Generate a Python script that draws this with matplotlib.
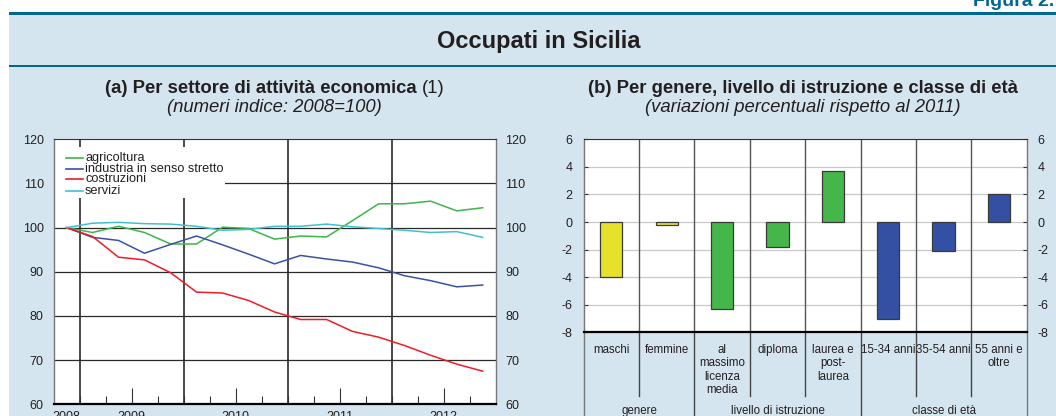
import matplotlib
matplotlib.use('Agg')
import matplotlib.pyplot as plt
import matplotlib.transforms as mtransforms
from matplotlib.patches import Rectangle
from matplotlib.lines import Line2D
import numpy as np

plt.rcParams['font.family'] = ['Liberation Sans', 'DejaVu Sans']
plt.rcParams['axes.unicode_minus'] = False

# ---------------- data ----------------
quarters = ['2008 T4',
            '2009 T1', '2009 T2', '2009 T3', '2009 T4',
            '2010 T1', '2010 T2', '2010 T3', '2010 T4',
            '2011 T1', '2011 T2', '2011 T3', '2011 T4',
            '2012 T1', '2012 T2', '2012 T3', '2012 T4']
years = [2008, 2009, 2010, 2011, 2012]
agricoltura = [100, 98.9, 100.3, 98.9, 96.3, 96.3, 100.1, 99.8, 97.4, 98.1, 97.9,
               101.6, 105.4, 105.4, 106.0, 103.8, 104.5]
industria = [100, 97.8, 97.1, 94.2, 96.2, 98.1, 96.1, 94.0, 91.8, 93.7, 92.9,
             92.2, 90.9, 89.1, 88.0, 86.6, 87.0]
costruzioni = [100, 98.0, 93.3, 92.7, 89.8, 85.4, 85.2, 83.5, 80.9, 79.2, 79.2,
               76.5, 75.2, 73.3, 71.1, 69.1, 67.5]
servizi = [100, 101.0, 101.2, 100.9, 100.8, 100.3, 99.4, 99.6, 100.3, 100.3, 100.8,
           100.2, 99.8, 99.4, 98.9, 99.1, 97.8]
series_names = ['agricoltura', 'industria in senso stretto', 'costruzioni', 'servizi']

categories = ['maschi', 'femmine', 'al\nmassimo\nlicenza\nmedia', 'diploma',
              'laurea e\npost-\nlaurea', '15-34 anni', '35-54 anni', '55 anni e\noltre']
variazioni = [-4.0, -0.25, -6.3, -1.8, 3.7, -7.0, -2.1, 2.0]
groups = ['genere', 'livello di istruzione', 'classe di età']
group_sizes = [2, 3, 3]

# ---------------- style ----------------
BG = '#d5e5ef'
TEAL = '#006890'
TXT = '#231f20'
line_colors = ['#3cb54a', '#3a52a3', '#ee1c25', '#40c0d2']
group_colors = ['#e6e22c', '#45b649', '#3350a3']

W, H = 1056, 416
fig = plt.figure(figsize=(W / 100, H / 100), dpi=100, facecolor=BG)


def fx(px):
    return px / W


def fy(py):
    return 1 - py / H


def frect(x0, y0, x1, y1, color):
    fig.patches.append(Rectangle((fx(x0), fy(y1)), (x1 - x0) / W, (y1 - y0) / H,
                                 transform=fig.transFigure, color=color, lw=0, zorder=0))


frect(0, 0, W, 12.5, 'white')
frect(0, 0, 9, H, 'white')
frect(9, 12.3, W, 14.5, TEAL)
frect(9, 64.9, W, 66.8, TEAL)

fig.text(fx(1054), fy(5.5), 'Figura 2.', ha='right', va='baseline', fontsize=14,
         fontweight='bold', color=TEAL)
fig.text(fx(538.5), fy(48.3), 'Occupati in Sicilia', ha='center', va='baseline',
         fontsize=17, fontweight='bold', color=TXT)

renderer = fig.canvas.get_renderer()


def mixed(xc, ybase, parts, size):
    texts = []
    widths = []
    for s, w, st in parts:
        t = fig.text(0, fy(ybase), s, ha='left', va='baseline', fontsize=size,
                     fontweight=w, fontstyle=st, color=TXT)
        bb = t.get_window_extent(renderer=renderer)
        texts.append(t)
        widths.append(bb.width)
    total = sum(widths)
    x = xc - total / 2
    for t, wd in zip(texts, widths):
        t.set_x(fx(x))
        x += wd


SUB = 13.3
mixed(274.6, 93, [('(a) Per settore di attività economica ', 'bold', 'normal'),
                  ('(1)', 'normal', 'normal')], SUB)
mixed(274.6, 112, [('(numeri indice: 2008=100)', 'normal', 'italic')], SUB)
mixed(803, 93, [('(b) Per genere, livello di istruzione e classe di età', 'bold', 'normal')], SUB)
mixed(803, 112, [('(variazioni percentuali rispetto al 2011)', 'normal', 'italic')], SUB)

# ---------------- left panel ----------------
L0, L1, T0, B0 = 53.5, 495.7, 139.3, 404.3
axL = fig.add_axes([fx(L0), fy(B0), (L1 - L0) / W, (B0 - T0) / H])
axL.set_facecolor('white')
xq = np.array([(int(q[:4]) - 2008) * 4 + int(q[-1]) - 1 + 0.5 for q in quarters])
x_lo, x_hi = xq[0] - 0.5, xq[-1] + 0.5
axL.set_xlim(x_lo, x_hi)
axL.set_ylim(60, 120)

for yv in range(70, 120, 10):
    axL.axhline(yv, color='#2a2a2a', lw=0.9, zorder=1)
for yr in years[1:]:
    axL.axvline((yr - 2008) * 4, color='#2a2a2a', lw=1.2, zorder=1)

for vals, col in zip([agricoltura, industria, costruzioni, servizi], line_colors):
    axL.plot(xq, vals, color=col, lw=1.1, zorder=4, solid_joinstyle='round')

# legend (manual, tight rows like reference)
axL.add_patch(Rectangle((0.004, 0.78), 0.384, 0.19, transform=axL.transAxes,
                        fc='white', ec='none', zorder=2))
rows_y = [0.9306, 0.888, 0.849, 0.806]
for name, col, ry in zip(series_names, line_colors, rows_y):
    axL.add_line(Line2D([0.029, 0.066], [ry, ry], transform=axL.transAxes,
                        color=col, lw=1.2, zorder=3))
    axL.text(0.0715, ry, name, transform=axL.transAxes, fontsize=9.2, color=TXT,
             va='center', ha='left', zorder=3)

major_x = [(yr - 2008) * 4 + 2 for yr in years if x_lo < (yr - 2008) * 4 + 2 < x_hi]
minor_x = [v for v in np.arange(np.ceil(x_lo), x_hi + 0.01, 1) if v not in major_x
           and x_lo < v < x_hi]
axL.set_xticks(major_x)
axL.set_xticks(minor_x, minor=True)
axL.tick_params(axis='x', which='major', direction='in', length=11.5, width=0.8,
                color='#333333', labelbottom=False)
axL.tick_params(axis='x', which='minor', direction='in', length=5.5, width=0.8,
                color='#333333', labelbottom=False)
axL.set_yticks(range(60, 121, 10))
axL.tick_params(axis='y', length=0, pad=7, labelsize=9, labelleft=True, labelright=True,
                labelcolor=TXT)
trL = mtransforms.blended_transform_factory(axL.transData, axL.transAxes)
for yr in years:
    a = max((yr - 2008) * 4, x_lo)
    b = min((yr - 2008) * 4 + 4, x_hi)
    axL.text((a + b) / 2, -0.026, str(yr), transform=trL, ha='center', va='top',
             fontsize=9, color=TXT)
axL.spines['top'].set_color('#333333')
axL.spines['bottom'].set_color('black')
axL.spines['bottom'].set_linewidth(1.6)
for s in ['left', 'right']:
    axL.spines[s].set_color('#777777')
    axL.spines[s].set_linewidth(1.0)

# ---------------- right panel ----------------
R0, R1, RT, RB = 583.7, 1026.6, 139.3, 332.3
axR = fig.add_axes([fx(R0), fy(RB), (R1 - R0) / W, (RB - RT) / H])
axR.set_facecolor('white')
n = len(categories)
axR.set_xlim(0, n)
axR.set_ylim(-8, 6)
axR.set_yticks(range(-8, 7, 2))
axR.grid(axis='y', color='#c9c9c9', lw=0.9)
axR.set_axisbelow(True)

bar_colors = []
for gc, gs in zip(group_colors, group_sizes):
    bar_colors += [gc] * gs
xc = np.arange(n) + 0.5
axR.bar(xc, variazioni, width=0.4, color=bar_colors, edgecolor='#3a3a3a', lw=0.9, zorder=3)

trR = mtransforms.blended_transform_factory(axR.transData, axR.transAxes)
bounds = np.cumsum([0] + group_sizes)
for i in range(1, n):
    axR.axvline(i, color='#555555', lw=1.0, zorder=2)
    ext = -0.50 if i in bounds else -0.33
    axR.add_line(Line2D([i, i], [0, ext], transform=trR, color='#444444', lw=1.0,
                        clip_on=False))
for i in [0, n]:
    axR.add_line(Line2D([i, i], [0, -0.50], transform=trR, color='#777777', lw=1.0,
                        clip_on=False))

for x, lab in zip(xc, categories):
    axR.text(x, -0.06, lab, transform=trR, ha='center', va='top', fontsize=8.3,
             linespacing=1.15, color=TXT)
for g, a, b in zip(groups, bounds[:-1], bounds[1:]):
    axR.text((a + b) / 2, -0.408, g, transform=trR, ha='center', va='center',
             fontsize=8.3, color=TXT)

axR.set_xticks([])
axR.tick_params(axis='y', direction='in', length=3, width=0.8, color='#333333',
                pad=8, labelsize=9, labelleft=True, labelright=True, left=True,
                right=True, labelcolor=TXT)
axR.spines['top'].set_color('#333333')
axR.spines['bottom'].set_color('black')
axR.spines['bottom'].set_linewidth(1.6)
for s in ['left', 'right']:
    axR.spines[s].set_color('#777777')
    axR.spines[s].set_linewidth(1.0)

fig.savefig('out.png', dpi=100, facecolor=BG)
